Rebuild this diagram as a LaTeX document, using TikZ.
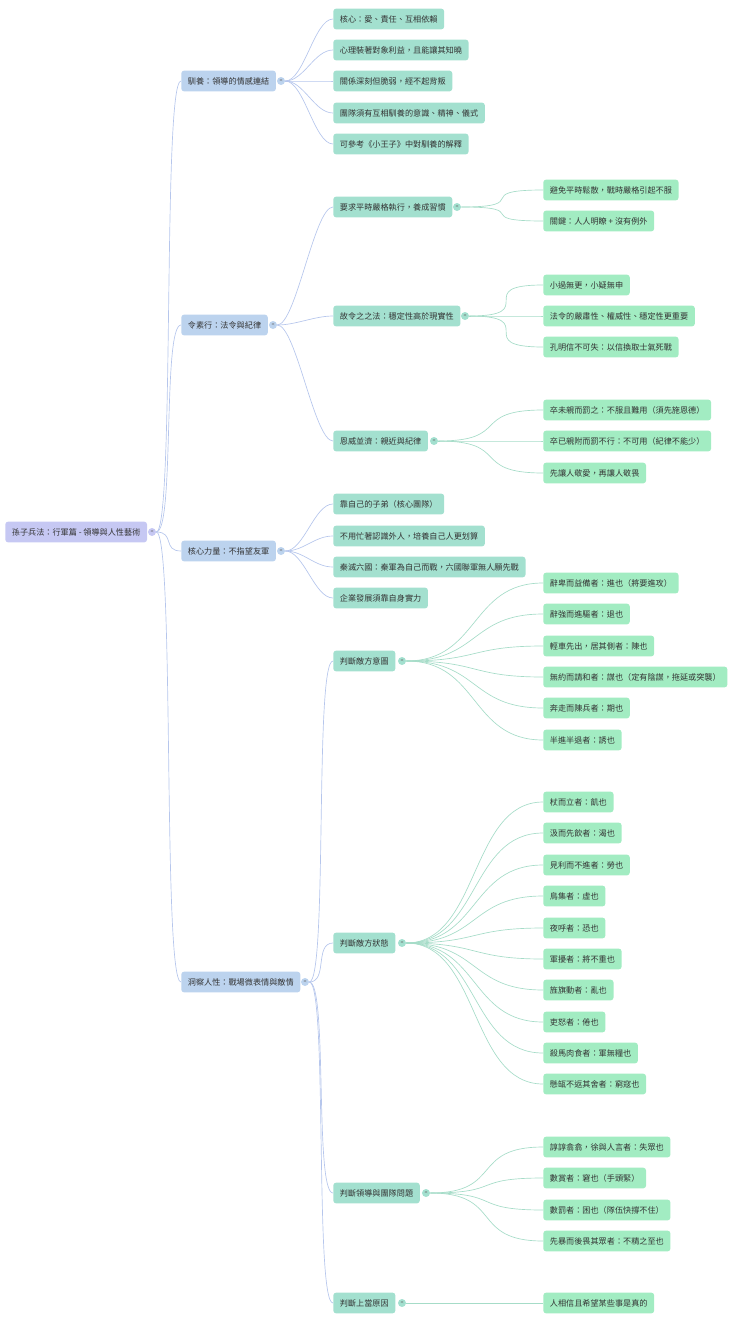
\documentclass[tikz,border=0pt]{standalone}
\usepackage{fontspec}
\newfontfamily\cjk{Noto Sans CJK TC}
\begin{document}
\begin{tikzpicture}[x=0.75pt,y=-0.75pt,
  box/.style={anchor=west,rounded corners=2.2pt,inner xsep=5pt,inner ysep=0pt,minimum height=15.6pt,font=\cjk\fontsize{6.1}{7}\selectfont,text=black!80},
  root/.style={box,fill=rootc},
  lv2/.style={box,fill=bluec},
  teal/.style={box,fill=tealc},
  leaf/.style={box,fill=greenc},
  dotb/.style={circle,inner sep=0pt,minimum size=6pt,fill=bluec,font=\cjk\fontsize{4}{4}\selectfont,text=black!60},
  dott/.style={dotb,fill=tealc},
  lb/.style={draw=bluel,line width=0.5pt},
  lt/.style={draw=teall,line width=0.5pt}]
\definecolor{rootc}{HTML}{C6C8F3}
\definecolor{bluec}{HTML}{BCD3EE}
\definecolor{tealc}{HTML}{A3E0CF}
\definecolor{greenc}{HTML}{A2ECC2}
\definecolor{bluel}{HTML}{B6C6EC}
\definecolor{teall}{HTML}{A6DCC8}
\useasboundingbox (0,0) rectangle (740,1324);
\newcommand\lnk[3]{\draw[#1] (#2.east) .. controls ($(#2.east)!0.5!(#3.west -| #2.east)+(14,0)$) and ($(#3.west)+(-14,0)$) .. (#3.west);}
% root
\node[root] (r) at (5,532) {孫子兵法：行軍篇 - 領導與人性藝術};
\node[dotb,fill=rootc] (rd) at (152,532) {<};
% level 2
\node[lv2] (a) at (181,81) {馴養：領導的情感連結};
\node[dotb] (ad) at (281,81) {<};
\node[lv2] (b) at (181,325) {令素行：法令與紀律};
\node[dotb] (bd) at (273,325) {<};
\node[lv2] (c) at (181,551) {核心力量：不指望友軍};
\node[dotb] (cd) at (281,551) {<};
\node[lv2] (d) at (181,982) {洞察人性：戰場微表情與敵情};
\node[dotb] (dd) at (305,982) {<};
% under a
\node[teal] (a1) at (333,19) {核心：愛、責任、互相依賴};
\node[teal] (a2) at (333,50) {心理裝著對象利益，且能讓其知曉};
\node[teal] (a3) at (333,81) {關係深刻但脆弱，經不起背叛};
\node[teal] (a4) at (333,113) {團隊須有互相馴養的意識、精神、儀式};
\node[teal] (a5) at (333,144) {可參考《小王子》中對馴養的解釋};
% under b
\node[teal] (b1) at (333,207) {要求平時嚴格執行，養成習慣};
\node[dott] (b1d) at (457,207) {<};
\node[teal] (b2) at (333,316) {故令之之法：穩定性高於現實性};
\node[dott] (b2d) at (465,316) {<};
\node[teal] (b3) at (333,441) {恩威並濟：親近與紀律};
\node[dott] (b3d) at (434,441) {<};
\node[leaf] (b11) at (543,190) {避免平時鬆散，戰時嚴格引起不服};
\node[leaf] (b12) at (543,221) {關鍵：人人明瞭 + 沒有例外};
\node[leaf] (b21) at (543,285) {小過無更，小疑無申};
\node[leaf] (b22) at (543,316) {法令的嚴肅性、權威性、穩定性更重要};
\node[leaf] (b23) at (543,347) {孔明信不可失：以信換取士氣死戰};
\node[leaf] (b31) at (543,410) {卒未親而罰之：不服且難用（須先施恩德）};
\node[leaf] (b32) at (543,441) {卒已親附而罰不行：不可用（紀律不能少）};
\node[leaf] (b33) at (543,473) {先讓人敬愛，再讓人敬畏};
% under c
\node[teal] (c1) at (333,504) {靠自己的子弟（核心團隊）};
\node[teal] (c2) at (333,536) {不用忙著認識外人，培養自己人更划算};
\node[teal] (c3) at (333,567) {秦滅六國：秦軍為自己而戰，六國聯軍無人願先戰};
\node[teal] (c4) at (333,598) {企業發展須靠自身實力};
% under d
\node[teal] (d1) at (333,661) {判斷敵方意圖};
\node[dott] (d1d) at (402,661) {<};
\node[teal] (d2) at (333,943) {判斷敵方狀態};
\node[dott] (d2d) at (402,943) {<};
\node[teal] (d3) at (333,1193) {判斷領導與團隊問題};
\node[dott] (d3d) at (426,1193) {<};
\node[teal] (d4) at (333,1303) {判斷上當原因};
\node[dott] (d4d) at (402,1303) {<};
\node[leaf] (d11) at (543,583) {辭卑而益備者：進也（將要進攻）};
\node[leaf] (d12) at (543,614) {辭強而進驅者：退也};
\node[leaf] (d13) at (543,646) {輕車先出，居其側者：陳也};
\node[leaf] (d14) at (543,677) {無約而請和者：謀也（定有陰謀，拖延或突襲）};
\node[leaf] (d15) at (543,708) {奔走而陳兵者：期也};
\node[leaf] (d16) at (543,740) {半進半退者：誘也};
\node[leaf] (d21) at (543,802) {杖而立者：飢也};
\node[leaf] (d22) at (543,833) {汲而先飲者：渴也};
\node[leaf] (d23) at (543,865) {見利而不進者：勞也};
\node[leaf] (d24) at (543,896) {鳥集者：虛也};
\node[leaf] (d25) at (543,928) {夜呼者：恐也};
\node[leaf] (d26) at (543,959) {軍擾者：將不重也};
\node[leaf] (d27) at (543,990) {旌旗動者：亂也};
\node[leaf] (d28) at (543,1022) {吏怒者：倦也};
\node[leaf] (d29) at (543,1053) {殺馬肉食者：軍無糧也};
\node[leaf] (d210) at (543,1084) {懸缻不返其舍者：窮寇也};
\node[leaf] (d31) at (543,1147) {諄諄翕翕，徐與人言者：失眾也};
\node[leaf] (d32) at (543,1178) {數賞者：窘也（手頭緊）};
\node[leaf] (d33) at (543,1210) {數罰者：困也（隊伍快撐不住）};
\node[leaf] (d34) at (543,1241) {先暴而後畏其眾者：不精之至也};
\node[leaf] (d41) at (543,1303) {人相信且希望某些事是真的};
% connectors
\begin{scope}[every path/.style={}]
\foreach \p/\c in {rd/a,rd/b,rd/c,rd/d,ad/a1,ad/a2,ad/a3,ad/a4,ad/a5,bd/b1,bd/b2,bd/b3,cd/c1,cd/c2,cd/c3,cd/c4,dd/d1,dd/d2,dd/d3,dd/d4}
  \draw[draw=bluel,line width=0.5pt] (\p.east) .. controls ([xshift=14]\p.east) and ([xshift=-14]\c.west) .. (\c.west);
\foreach \p/\c in {b1d/b11,b1d/b12,b2d/b21,b2d/b22,b2d/b23,b3d/b31,b3d/b32,b3d/b33,d1d/d11,d1d/d12,d1d/d13,d1d/d14,d1d/d15,d1d/d16,d2d/d21,d2d/d22,d2d/d23,d2d/d24,d2d/d25,d2d/d26,d2d/d27,d2d/d28,d2d/d29,d2d/d210,d3d/d31,d3d/d32,d3d/d33,d3d/d34,d4d/d41}
  \draw[draw=teall,line width=0.5pt] (\p.east) .. controls ([xshift=55]\p.east) and ([xshift=-55]\c.west) .. (\c.west);
\end{scope}
\end{tikzpicture}
\end{document}
